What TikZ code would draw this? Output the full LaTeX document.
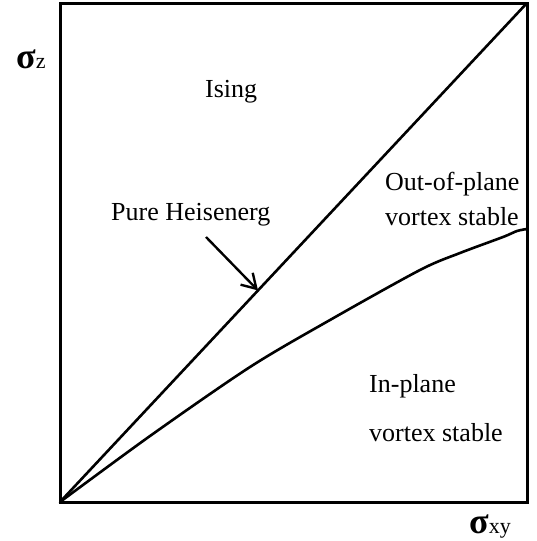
\documentclass[tikz,border=0pt]{standalone}
\usepackage{fontspec}
\setmainfont{Liberation Serif}
\newfontfamily\sigfont{Liberation Serif}
\usetikzlibrary{arrows.meta,calc}
\tikzset{
  lbl/.style={inner sep=0pt, anchor=base west, font=\fontsize{26}{30}\selectfont},
  axlbl/.style={inner sep=0pt, anchor=base west},
  thick line/.style={line width=2.6pt, line cap=round, line join=round},
}
\newcommand{\sig}{{\sigfont\bfseries\fontsize{36}{38}\selectfont σ}}
\newcommand{\subtxt}[1]{{\fontsize{22}{24}\selectfont #1}}
\begin{document}
\begin{tikzpicture}[x=1pt,y=-1pt]
\useasboundingbox (0,0) rectangle (536,541);
% frame
\coordinate (O) at (60,502);
\coordinate (TR) at (527,3);
\draw[line width=3pt] (60,3) rectangle (527,502);
% diagonal
\draw[thick line] (O) -- (TR);
% stability boundary
\draw[thick line] plot[smooth, tension=0.5] coordinates {(60,502) (150,436) (250,367) (330,320) (420,270) (460,253) (503,237) (517,231) (527,229)};
% labels
\node[lbl] (ising) at (205,97) {Ising};
\node[lbl] (ph) at (111,220) {Pure Heisenerg};
\node[lbl] (oop1) at (385,190) {Out-of-plane};
\node[lbl] (oop2) at (385,225) {vortex stable};
\node[lbl] (ip1) at (369,392) {In-plane};
\node[lbl] (ip2) at (369,441) {vortex stable};
% arrow
\coordinate (astart) at (206,237);
\coordinate (aend) at ($(O)!0.424!(TR)$);
\draw[line width=2.4pt, -{Straight Barb[length=14pt,width=17pt]}] (astart) -- (aend);
% axis labels
\node[axlbl] (sz) at (16,68) {\sig\subtxt{z}};
\node[axlbl] (sxy) at (469,533) {\sig\subtxt{xy}};
\end{tikzpicture}
\end{document}
